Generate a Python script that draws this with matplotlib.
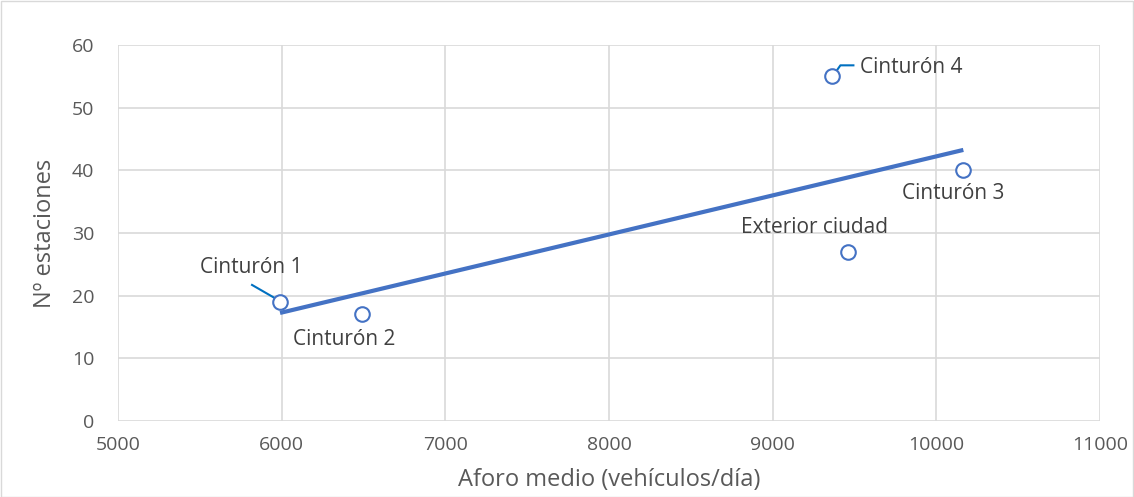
import matplotlib
matplotlib.use("Agg")
import matplotlib.pyplot as plt
import numpy as np
from matplotlib.patches import Rectangle

# Average traffic vs. number of stations per ring road
categories = ["Cinturón 1", "Cinturón 2", "Cinturón 4", "Cinturón 3", "Exterior ciudad"]
aforo = [5990, 6490, 9365, 10165, 9460]
estaciones = [19, 17, 55, 40, 27]
x_ticks = [5000, 6000, 7000, 8000, 9000, 10000, 11000]
y_ticks = [0, 10, 20, 30, 40, 50, 60]

blue = "#4472C4"
leader = "#0070C0"
grey_text = "#595959"
grid_col = "#D9D9D9"

plt.rcParams["font.family"] = ["Open Sans", "DejaVu Sans"]

fig = plt.figure(figsize=(11.34, 4.97), dpi=100)
ax = fig.add_axes([118 / 1134, 1 - 421 / 497, (1100 - 118) / 1134, (421 - 45) / 497])

ax.set_xlim(5000, 11000)
ax.set_ylim(0, 60)
ax.set_xticks(x_ticks)
ax.set_yticks(y_ticks)
ax.grid(True, color=grid_col, linewidth=1.2)
ax.set_axisbelow(True)
for s in ax.spines.values():
    s.set_visible(False)
ax.tick_params(length=0, labelsize=14, colors=grey_text)
ax.tick_params(axis="y", pad=17)
ax.tick_params(axis="x", pad=11)

# Linear trend line over the data range
xa = np.array(aforo, dtype=float)
ya = np.array(estaciones, dtype=float)
m, b = np.polyfit(xa, ya, 1)
xs = np.array([xa.min(), xa.max()])
ax.plot(xs, m * xs + b, color=blue, linewidth=3, solid_capstyle="butt", zorder=2)

ax.scatter(aforo, estaciones, s=110, facecolors="white", edgecolors=blue,
           linewidths=1.5, zorder=3)

# Data labels (offsets in pixels from each point)
offsets = {
    "Cinturón 1": (-29, 34, "center"),
    "Cinturón 2": (-18, -25, "center"),
    "Cinturón 4": (28, 9, "left"),
    "Cinturón 3": (-10, -23, "center"),
    "Exterior ciudad": (-33, 24, "center"),
}
for name, xv, yv in zip(categories, aforo, estaciones):
    dx, dy, ha = offsets[name]
    ax.annotate(name, (xv, yv), xytext=(dx, dy), textcoords="offset pixels",
                ha=ha, va="center", fontsize=15, color="#404040")


def leader_line(xv, yv, pix_offsets):
    base = ax.transData.transform((xv, yv))
    pts = np.array([base + np.array(p) for p in pix_offsets])
    d = ax.transData.inverted().transform(pts)
    ax.plot(d[:, 0], d[:, 1], color=leader, lw=1.5, zorder=2.5)


leader_line(aforo[0], estaciones[0], [(-28, 17), (-2, 2)])
leader_line(aforo[2], estaciones[2], [(1, 1), (8, 11), (21, 11)])

ax.set_xlabel("Aforo medio (vehículos/día)", fontsize=17, color=grey_text, labelpad=10)
ax.set_ylabel("Nº estaciones", fontsize=17, color=grey_text, labelpad=11)

# Chart border
fig.patches.append(Rectangle((0.5 / 1134, 0.5 / 497), 1 - 1.5 / 1134, 1 - 1.5 / 497,
                             transform=fig.transFigure, fill=False,
                             edgecolor=grid_col, linewidth=1))

fig.savefig("out.png", dpi=100)
